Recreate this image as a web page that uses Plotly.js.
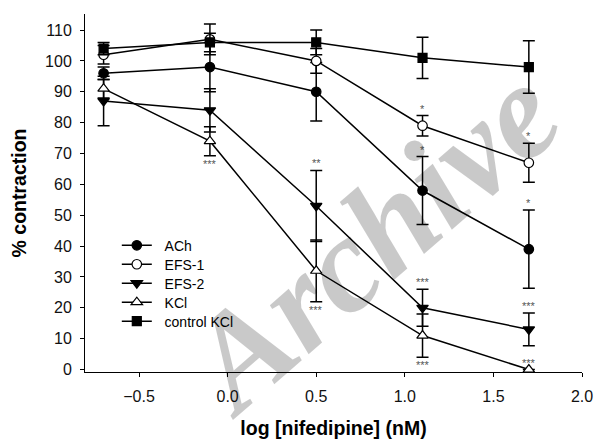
<!DOCTYPE html>
<html>
<head>
<meta charset="utf-8">
<script src="https://cdn.plot.ly/plotly-3.0.1.min.js"></script>
<style>html,body{margin:0;padding:0;background:#fff;}#chart{width:595px;height:442px;}</style>
</head>
<body>
<div id="chart"></div>
<script>
// x positions: log [nifedipine] (nM)
const logConc = [-0.7, -0.1, 0.5, 1.1, 1.7];

const seriesNames = ["ACh", "EFS-1", "EFS-2", "KCl", "control KCl"];

const achMean   = [96, 98, 90, 58, 39];
const achErr    = [2, 8, 9.5, 11, 12.7];
const efs1Mean  = [102, 107, 100, 79, 67];
const efs1Err   = [3, 5, 4, 3.3, 6.3];
const efs2Mean  = [87, 84, 53, 20, 13];
const efs2Err   = [8, 7, 11.5, 6, 5.3];
const kclMean   = [91, 74, 32, 11, 0];
const kclErr    = [3, 4.7, 10, 7, 0];
const ctrlMean  = [104, 106, 106, 101, 98];
const ctrlErr   = [2, 3, 4, 6.7, 8.5];

// significance marks
const achSig   = ["", "", "", "*", "*"];
const efs1Sig  = ["", "", "", "*", "*"];
const efs2Sig  = ["", "", "**", "***", "***"];
const kclSig   = ["", "***", "***", "***", "***"];
const kclSigSide = ["", "below", "below", "below", "above"];

const xTickVals = [-0.5, 0.0, 0.5, 1.0, 1.5, 2.0];
const yTickVals = [0, 10, 20, 30, 40, 50, 60, 70, 80, 90, 100, 110];

const FONT = "Arial, 'Liberation Sans', sans-serif";

const legendIds = ["legend", "legend2", "legend3", "legend4", "legend5"];

function trace(idx, y, err, symbol, filled, size) {
  return {
    x: logConc, y: y, name: "\u00a0\u00a0" + seriesNames[idx], type: "scatter", mode: "lines+markers",
    legend: legendIds[idx],
    line: {color: "#000", width: 1.5},
    marker: {symbol: symbol, size: size, color: filled ? "#000" : "#fff", line: {color: "#000", width: 1.2}},
    error_y: {type: "data", array: err, visible: true, color: "#000", thickness: 1.5, width: 6},
    cliponaxis: false
  };
}

const data = [
  trace(0, achMean, achErr, "circle", true, 9.5),
  trace(1, efs1Mean, efs1Err, "circle", false, 9.5),
  trace(2, efs2Mean, efs2Err, "triangle-down", true, 10),
  trace(3, kclMean, kclErr, "triangle-up", false, 10),
  trace(4, ctrlMean, ctrlErr, "square", true, 9)
];

const annotations = [];
function addSig(sig, mean, err, sides) {
  sig.forEach((s, i) => {
    if (!s) return;
    const side = sides ? sides[i] : "above";
    const above = side === "above";
    annotations.push({
      x: logConc[i], y: above ? mean[i] + err[i] : mean[i] - err[i],
      xref: "x", yref: "y", text: s, showarrow: false,
      yanchor: above ? "bottom" : "top", yshift: above ? -1 : 0,
      font: {family: FONT, size: 11, color: "#555"}
    });
  });
}
addSig(achSig, achMean, achErr);
addSig(efs1Sig, efs1Mean, efs1Err);
addSig(efs2Sig, efs2Mean, efs2Err);
addSig(kclSig, kclMean, kclErr, kclSigSide);

// watermark
annotations.push({
  xref: "paper", yref: "paper", x: 0.573, y: 0.37, text: "Archive", showarrow: false,
  textangle: -41, xanchor: "center", yanchor: "middle",
  font: {family: "'Liberation Serif', 'DejaVu Serif', serif", size: 136, color: "rgba(0,0,0,0.21)", style: "italic", weight: "bold"}
});

// legend rows (pixel centres converted to paper fraction of plot area)
const legendRowPx = [246, 265, 284, 303, 322];
const plotTop = 14, plotBottom = 372.5;

const layout = {
  width: 595, height: 442,
  margin: {l: 85, r: 13, t: 14, b: 69.5, pad: 0},
  paper_bgcolor: "#fff", plot_bgcolor: "#fff",
  font: {family: FONT, color: "#000", size: 16},
  showlegend: true,
  xaxis: {
    range: [-0.805, 2.0], tickvals: xTickVals, tickformat: ".1f",
    showline: true, linecolor: "#000", linewidth: 1, ticks: "outside", ticklen: 4, tickcolor: "#000",
    showgrid: false, zeroline: false, tickfont: {size: 16, color: "#111"}, ticklabelstandoff: 6,
    title: {text: "<b>log [nifedipine] (nM)</b>", font: {size: 19.5, color: "#000"}, standoff: 17}
  },
  yaxis: {
    range: [-0.8, 115.2], tickvals: yTickVals,
    showline: true, linecolor: "#000", linewidth: 1, ticks: "outside", ticklen: 4, tickcolor: "#000",
    showgrid: false, zeroline: false, tickfont: {size: 16, color: "#111"}, ticklabelstandoff: 5,
    title: {text: "<b>% contraction</b>", font: {size: 19.5, color: "#000"}, standoff: 13}
  },
  annotations: annotations
};
legendIds.forEach((id, i) => {
  layout[id] = {
    x: 0.064, y: (plotBottom - legendRowPx[i]) / (plotBottom - plotTop),
    xanchor: "left", yanchor: "middle", bgcolor: "rgba(0,0,0,0)",
    font: {family: FONT, size: 14, color: "#000"}, itemwidth: 30
  };
});

Plotly.newPlot("chart", data, layout, {displayModeBar: false, staticPlot: true});
</script>
</body>
</html>
